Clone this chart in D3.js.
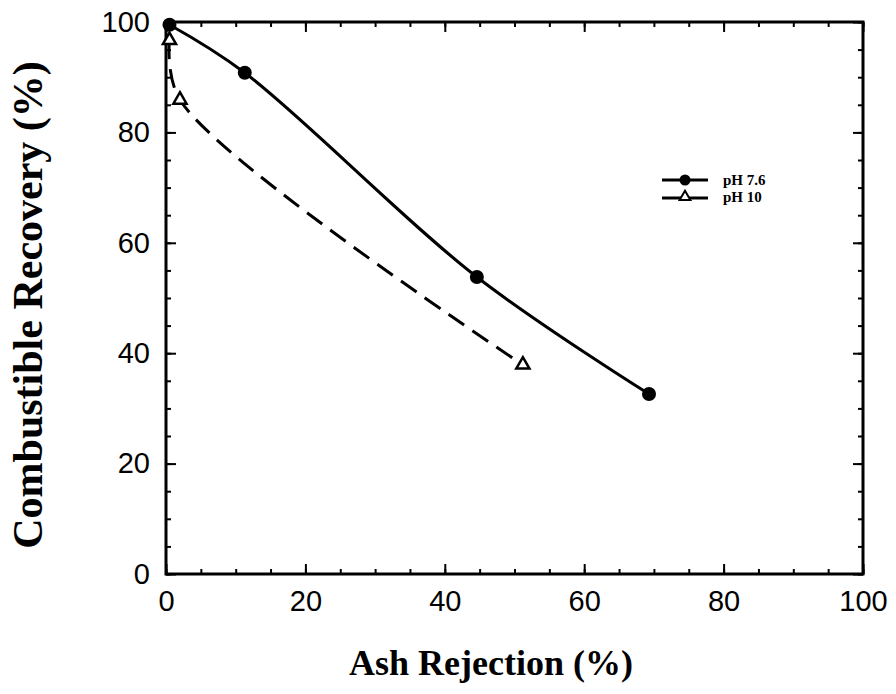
<!DOCTYPE html>
<html>
<head>
<meta charset="utf-8">
<script src="https://cdn.jsdelivr.net/npm/d3@7"></script>
<style>
  body { margin: 0; background: #fff; }
  svg { display: block; }
</style>
</head>
<body>
<svg id="chart" width="896" height="694"></svg>
<script>
// data
var ph76X = [0.5, 11.3, 44.6, 69.3];
var ph76Y = [99.5, 90.8, 53.8, 32.6];
var ph10X = [0.5, 2.0, 51.2];
var ph10Y = [96.7, 85.9, 37.9];
var majorTicks = [0, 20, 40, 60, 80, 100];
var minorTicks = d3.range(0, 101, 5);
var legendLabels = ["pH 7.6", "pH 10"];

var svg = d3.select("#chart");
var plotLeft = 166, plotRight = 863, plotTop = 22, plotBottom = 574;

var x = d3.scaleLinear().domain([0, 100]).range([plotLeft, plotRight]);
var y = d3.scaleLinear().domain([0, 100]).range([plotBottom, plotTop]);

// axes, ticks pointing inward on all four sides
function drawAxis(axisFn, scale, tx, ty, size, values, labels) {
  var g = svg.append("g")
    .attr("transform", "translate(" + tx + "," + ty + ")")
    .call(axisFn(scale).tickValues(values).tickSize(size).tickSizeOuter(0)
      .tickPadding(labels ? 16 : 0)
      .tickFormat(labels ? d3.format("d") : ""));
  g.select(".domain").remove();
  g.selectAll("line").attr("stroke", "#000").attr("stroke-width", 2);
  g.selectAll("text")
    .style("font-family", "'Liberation Sans', Arial, sans-serif")
    .attr("font-size", "29px")
    .attr("fill", "#000");
  return g;
}
drawAxis(d3.axisBottom, x, 0, plotBottom, -5, minorTicks, false);
drawAxis(d3.axisBottom, x, 0, plotBottom, -10, majorTicks, true);
drawAxis(d3.axisTop, x, 0, plotTop, -5, minorTicks, false);
drawAxis(d3.axisTop, x, 0, plotTop, -10, majorTicks, false);
drawAxis(d3.axisLeft, y, plotLeft, 0, -5, minorTicks, false);
drawAxis(d3.axisLeft, y, plotLeft, 0, -10, majorTicks, true);
drawAxis(d3.axisRight, y, plotRight, 0, -5, minorTicks, false);
drawAxis(d3.axisRight, y, plotRight, 0, -10, majorTicks, false);

svg.append("rect")
  .attr("x", plotLeft).attr("y", plotTop)
  .attr("width", plotRight - plotLeft).attr("height", plotBottom - plotTop)
  .attr("fill", "none").attr("stroke", "#000").attr("stroke-width", 3);

// curves
var line = d3.line()
  .x(function(d) { return x(d[0]); })
  .y(function(d) { return y(d[1]); })
  .curve(d3.curveCatmullRom);

var ph76 = d3.zip(ph76X, ph76Y);
var ph10 = d3.zip(ph10X, ph10Y);

svg.append("path").datum(ph76)
  .attr("d", line).attr("fill", "none")
  .attr("stroke", "#000").attr("stroke-width", 3);

svg.append("path").datum(ph10)
  .attr("d", line).attr("fill", "none")
  .attr("stroke", "#000").attr("stroke-width", 3)
  .attr("stroke-dasharray", "19,10");

svg.selectAll(".dot76").data(ph76).enter().append("circle")
  .attr("cx", function(d) { return x(d[0]); })
  .attr("cy", function(d) { return y(d[1]); })
  .attr("r", 7).attr("fill", "#000");

var tri = d3.symbol().type(d3.symbolTriangle);
svg.selectAll(".tri10").data(ph10).enter().append("path")
  .attr("d", tri.size(75)())
  .attr("transform", function(d) { return "translate(" + x(d[0]) + "," + y(d[1]) + ")"; })
  .attr("fill", "#fff").attr("stroke", "#000").attr("stroke-width", 2.5);

// legend
var lg = svg.append("g");
lg.append("line").attr("x1", 662).attr("x2", 708).attr("y1", 180).attr("y2", 180)
  .attr("stroke", "#000").attr("stroke-width", 3);
lg.append("circle").attr("cx", 685).attr("cy", 180).attr("r", 5.5).attr("fill", "#000");
lg.append("line").attr("x1", 662).attr("x2", 708).attr("y1", 198).attr("y2", 198)
  .attr("stroke", "#000").attr("stroke-width", 3);
lg.append("path").attr("d", tri.size(50)())
  .attr("transform", "translate(685,197)")
  .attr("fill", "#fff").attr("stroke", "#000").attr("stroke-width", 2);
lg.selectAll("text").data(legendLabels).enter().append("text")
  .attr("x", 723)
  .attr("y", function(d, i) { return 185 + i * 17; })
  .style("font-family", "'Liberation Serif', 'Times New Roman', serif")
  .attr("font-weight", "bold")
  .attr("font-size", "15px")
  .text(function(d) { return d; });

// axis titles
svg.append("text")
  .attr("x", 491).attr("y", 675)
  .attr("text-anchor", "middle")
  .style("font-family", "'Liberation Serif', 'Times New Roman', serif")
  .attr("font-weight", "bold")
  .attr("font-size", "36px")
  .text("Ash Rejection (%)");

svg.append("text")
  .attr("transform", "translate(42,305) rotate(-90)")
  .attr("text-anchor", "middle")
  .style("font-family", "'Liberation Serif', 'Times New Roman', serif")
  .attr("font-weight", "bold")
  .attr("font-size", "42px")
  .text("Combustible Recovery (%)");
</script>
</body>
</html>
